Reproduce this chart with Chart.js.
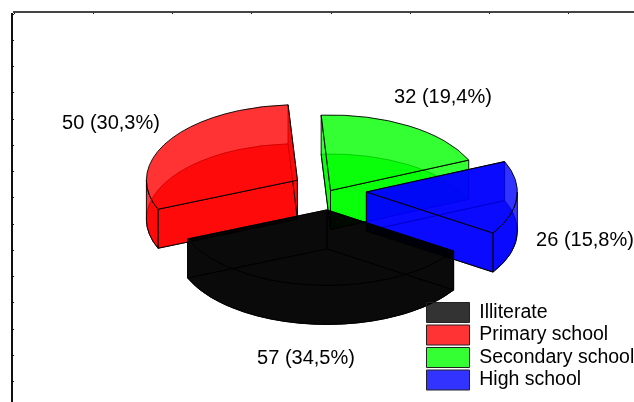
<!DOCTYPE html>
<html>
<head>
<meta charset="utf-8">
<title>Education level</title>
<script src="https://cdn.jsdelivr.net/npm/chart.js@4"></script>
<style>
  html, body { margin: 0; padding: 0; background: #fff; }
  #wrap { width: 634px; height: 402px; }
</style>
</head>
<body>
<div id="wrap"><canvas id="myChart" width="634" height="402"></canvas></div>
<script>
var categories = ["Illiterate", "Primary school", "Secondary school", "High school"];
var counts = [57, 50, 32, 26];
var sliceColors = ["rgba(0,0,0,0.8)", "rgba(255,0,0,0.8)", "rgba(0,255,0,0.8)", "rgba(0,0,255,0.8)"];
var xTickMax = 7.82;
var yTickMax = 14.77;

var total = counts.reduce(function (a, b) { return a + b; }, 0);

function sliceLabel(v) {
  return v + " (" + (v / total * 100).toFixed(1).replace(".", ",") + "%)";
}

// tilted pie: each slice is a translucent solid built from the arc elements' angles
var tiltedPie = {
  id: "tiltedPie",
  beforeDraw: function (chart, args, opts) {
    var ctx = chart.ctx;
    var arcs = chart.getDatasetMeta(0).data;
    var slices = arcs.map(function (el, i) {
      var p = el.getProps(["x", "y", "startAngle", "endAngle", "outerRadius"], true);
      var mid = (p.startAngle + p.endAngle) / 2;
      var off = (el.options.offset || 0) / 4;
      return {
        i: i,
        start: p.startAngle,
        end: p.endAngle,
        r: p.outerRadius,
        ax: p.x + opts.shiftX + Math.cos(mid) * off,
        ay: p.y + opts.shiftY + Math.sin(mid) * off * opts.squash,
        color: el.options.backgroundColor
      };
    });

    // back to front
    slices.slice().sort(function (a, b) { return a.ay - b.ay; }).forEach(function (s) {
      drawSlice(ctx, s, opts);
    });

    // value labels
    ctx.save();
    ctx.font = opts.labelFont;
    ctx.fillStyle = "#000";
    ctx.textAlign = "center";
    ctx.textBaseline = "middle";
    slices.forEach(function (s) {
      var spot = opts.labelSpots[s.i];
      ctx.fillText(sliceLabel(counts[s.i]), spot[0], spot[1]);
    });
    ctx.restore();

    // legend sits in the lower right corner, over the pie
    var lg = chart.legend;
    lg.left = opts.legendX;
    lg.top = opts.legendY;
    lg.right = chart.width;
    lg.bottom = chart.height + 40;
  },
  beforeDatasetsDraw: function () {
    return false;
  }
};

function rimPoint(s, t, k, dy) {
  return [s.ax + Math.cos(t) * s.r, s.ay + Math.sin(t) * s.r * k + dy];
}

function face(ctx, s, k, dy) {
  ctx.beginPath();
  ctx.moveTo(s.ax, s.ay + dy);
  ctx.ellipse(s.ax, s.ay + dy, s.r, s.r * k, 0, s.start, s.end);
  ctx.closePath();
  ctx.fill();
  ctx.stroke();
}

function flatWall(ctx, s, t, k, h) {
  var p = rimPoint(s, t, k, 0);
  ctx.beginPath();
  ctx.moveTo(s.ax, s.ay);
  ctx.lineTo(p[0], p[1]);
  ctx.lineTo(p[0], p[1] + h);
  ctx.lineTo(s.ax, s.ay + h);
  ctx.closePath();
  ctx.fill();
  ctx.stroke();
}

function rimWall(ctx, s, t0, t1, k, h) {
  ctx.beginPath();
  ctx.ellipse(s.ax, s.ay, s.r, s.r * k, 0, t0, t1);
  ctx.ellipse(s.ax, s.ay + h, s.r, s.r * k, 0, t1, t0, true);
  ctx.closePath();
  ctx.fill();
  ctx.stroke();
}

function drawSlice(ctx, s, opts) {
  var k = opts.squash, h = opts.depth;
  ctx.save();
  ctx.fillStyle = s.color;
  ctx.strokeStyle = "rgba(0,0,0,0.9)";
  ctx.lineWidth = 1;
  ctx.lineJoin = "round";

  face(ctx, s, k, h);

  // both cut sides
  flatWall(ctx, s, s.start, k, h);
  flatWall(ctx, s, s.end, k, h);

  // rim, for the part on the near half of the ellipse
  [0, Math.PI * 2, -Math.PI * 2].forEach(function (turn) {
    var t0 = Math.max(s.start, turn), t1 = Math.min(s.end, turn + Math.PI);
    if (t1 > t0) rimWall(ctx, s, t0, t1, k, h);
  });

  face(ctx, s, k, 0);
  ctx.restore();
}

new Chart("myChart", {
  type: "pie",
  data: {
    labels: categories,
    datasets: [{
      data: counts,
      backgroundColor: sliceColors,
      borderColor: "#222",
      borderWidth: 1,
      offset: [156, 156, 0, 144],
      radius: 151
    }]
  },
  plugins: [tiltedPie],
  options: {
    responsive: false,
    animation: false,
    rotation: 123,
    layout: { padding: { left: 14, top: 14, right: 0, bottom: 0 } },
    scales: {
      x: {
        type: "linear",
        position: "top",
        min: 0,
        max: xTickMax,
        ticks: { display: false, stepSize: 1, autoSkip: false },
        grid: { drawOnChartArea: false, tickLength: -2, color: "#111" },
        border: { color: "#444", width: 2 }
      },
      y: {
        type: "linear",
        position: "left",
        reverse: true,
        min: 0,
        max: yTickMax,
        ticks: { display: false, stepSize: 1, autoSkip: false },
        grid: { drawOnChartArea: false, tickLength: -2, color: "#111" },
        border: { color: "#111", width: 2 }
      }
    },
    plugins: {
      tooltip: { enabled: false },
      legend: {
        position: "chartArea",
        align: "start",
        labels: {
          boxWidth: 43,
          boxHeight: 20,
          padding: 2.5,
          color: "#000",
          font: { family: "'Liberation Sans'", size: 19.5, lineHeight: "20px" }
        }
      },
      tiltedPie: {
        squash: 0.5,
        depth: 39,
        shiftX: 6.5,
        shiftY: -17.5,
        labelFont: "20px 'Liberation Sans'",
        labelSpots: [[306, 358], [111, 123], [443, 97], [585, 240]],
        legendX: 424,
        legendY: 300
      }
    }
  }
});
</script>
</body>
</html>
